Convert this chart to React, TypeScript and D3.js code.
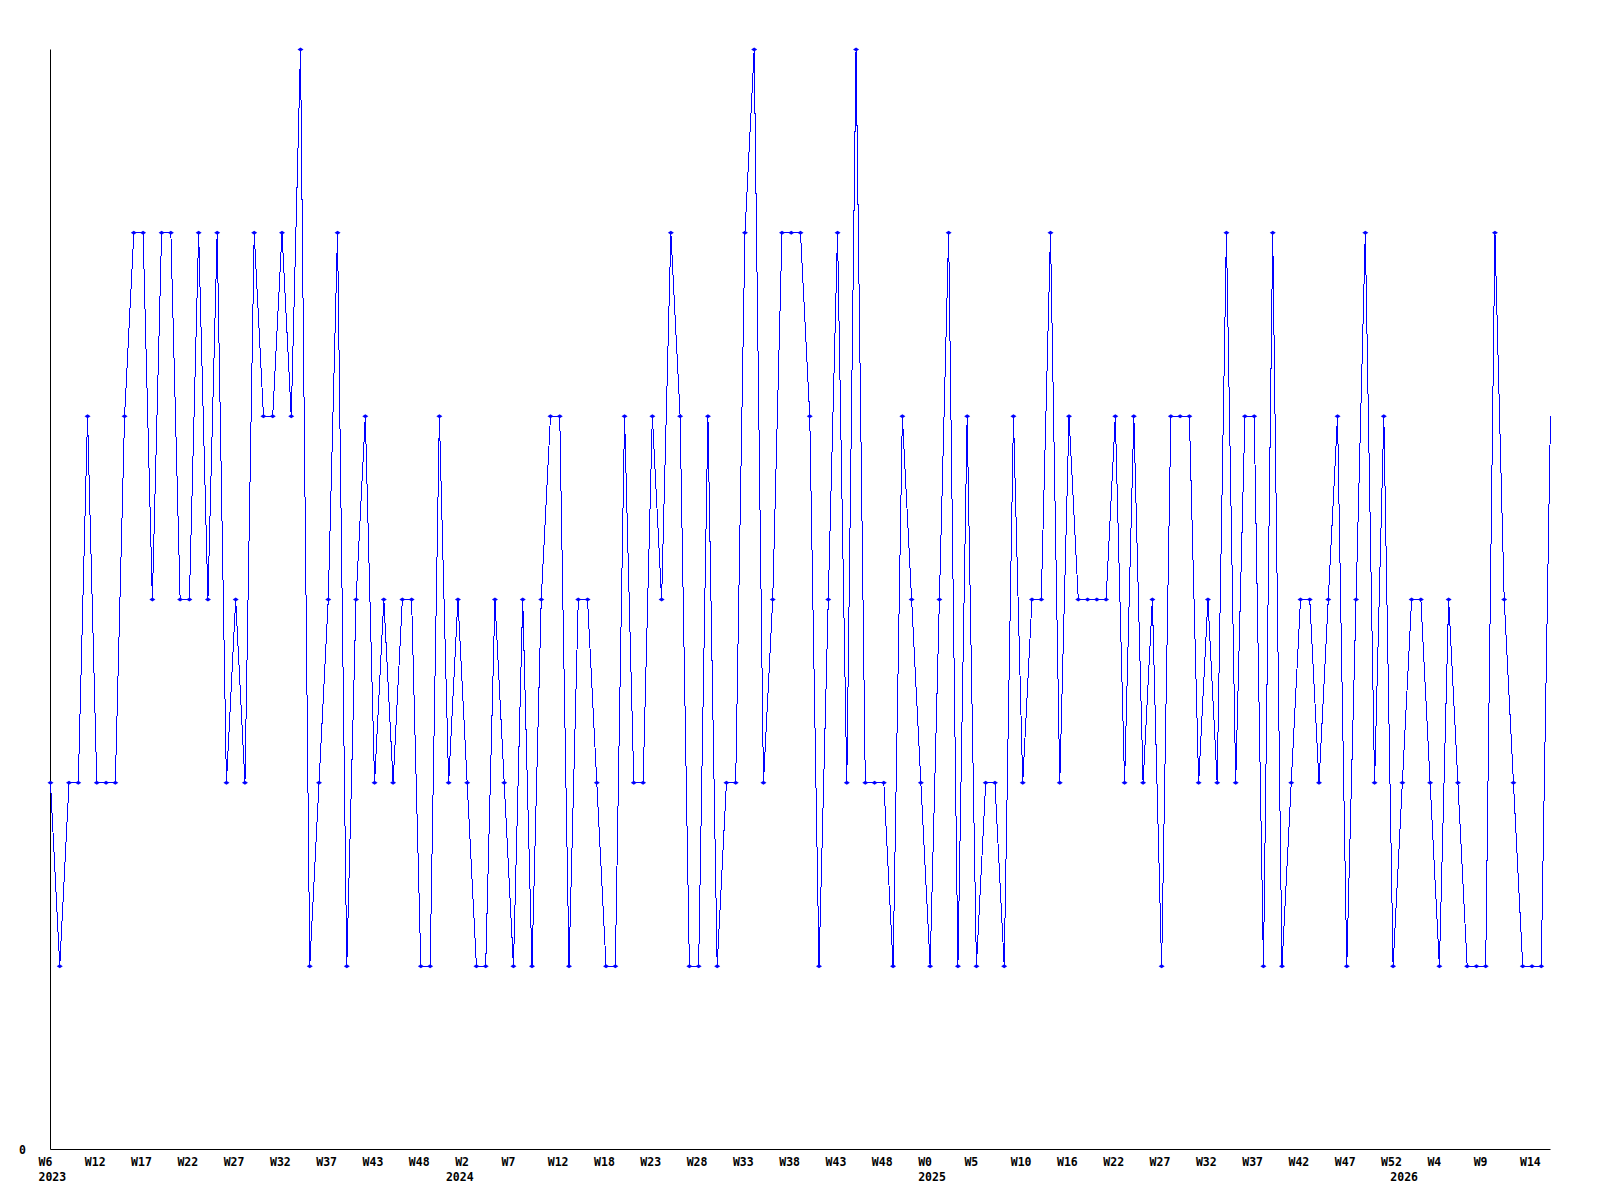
import * as d3 from "d3";
import { useEffect, useRef } from "react";

// one value per week
const values = [
  2, 1, 2, 2, 4, 2, 2, 2, 4, 5,
  5, 3, 5, 5, 3, 3, 5, 3, 5, 2,
  3, 2, 5, 4, 4, 5, 4, 6, 1, 2,
  3, 5, 1, 3, 4, 2, 3, 2, 3, 3,
  1, 1, 4, 2, 3, 2, 1, 1, 3, 2,
  1, 3, 1, 3, 4, 4, 1, 3, 3, 2,
  1, 1, 4, 2, 2, 4, 3, 5, 4, 1,
  1, 4, 1, 2, 2, 5, 6, 2, 3, 5,
  5, 5, 4, 1, 3, 5, 2, 6, 2, 2,
  2, 1, 4, 3, 2, 1, 3, 5, 1, 4,
  1, 2, 2, 1, 4, 2, 3, 3, 5, 2,
  4, 3, 3, 3, 3, 4, 2, 4, 2, 3,
  1, 4, 4, 4, 2, 3, 2, 5, 2, 4,
  4, 1, 5, 1, 2, 3, 3, 2, 3, 4,
  1, 3, 5, 2, 4, 1, 2, 3, 3, 2,
  1, 3, 2, 1, 1, 1, 5, 3, 2, 1,
  1, 1, 4,
];

// a week label on every 5th point
const weekLabels = [
  "W6", "W12", "W17", "W22", "W27", "W32", "W37", "W43", "W48", "W2",
  "W7", "W12", "W18", "W23", "W28", "W33", "W38", "W43", "W48", "W0",
  "W5", "W10", "W16", "W22", "W27", "W32", "W37", "W42", "W47", "W52",
  "W4", "W9", "W14",
];
const tickStep = 5;

const yearNames = ["2023", "2024", "2025", "2026"];
const yearIndex = [0, 44, 95, 146];

const yMax = 6;

function chart() {
  const width = 1600;
  const height = 1200;
  const left = 50.5;
  const right = 1550.5;
  const top = 49.5;
  const bottom = 1149.5;
  const font = "bold 11.5px 'DejaVu Sans Mono', 'Liberation Mono', monospace";

  const x = d3.scaleLinear().domain([0, values.length - 1]).range([left, right]);
  const y = d3.scaleLinear().domain([0, yMax]).range([bottom, top]);

  const svg = d3.create("svg")
      .attr("width", width)
      .attr("height", height)
      .attr("viewBox", [0, 0, width, height])
      .attr("style", "display:block; background:#fff;");

  // axes: plain lines, no ticks
  svg.append("line")
      .attr("x1", left).attr("x2", left)
      .attr("y1", y(yMax)).attr("y2", y(0))
      .attr("stroke", "#000");
  svg.append("line")
      .attr("x1", left).attr("x2", x(values.length - 1))
      .attr("y1", y(0)).attr("y2", y(0))
      .attr("stroke", "#000");

  svg.append("text")
      .attr("x", 26).attr("y", 1154)
      .attr("text-anchor", "end")
      .style("font", font)
      .text("0");

  svg.append("g")
      .style("font", font)
    .selectAll()
    .data(weekLabels)
    .join("text")
      .attr("x", (_, i) => x(i * tickStep) - 12)
      .attr("y", 1166)
      .text((d) => d);

  svg.append("g")
      .style("font", font)
    .selectAll()
    .data(yearNames)
    .join("text")
      .attr("x", (_, i) => x(yearIndex[i]) - 12)
      .attr("y", 1181)
      .text((d) => d);

  const line = d3.line<number>()
      .x((_, i) => x(i))
      .y((d) => y(d));

  svg.append("path")
      .datum(values)
      .attr("fill", "none")
      .attr("stroke", "#0000ff")
      .attr("stroke-width", 1)
      .attr("shape-rendering", "crispEdges")
      .attr("d", line);

  // small diamond markers
  svg.append("g")
      .attr("fill", "#0000ff")
    .selectAll()
    .data(values.slice(0, -1))
    .join("path")
      .attr("d", (d, i) => {
        const cx = x(i);
        const cy = y(d);
        return `M${cx - 3},${cy}L${cx},${cy - 2}L${cx + 3},${cy}L${cx},${cy + 2}Z`;
      });

  return svg.node();
}

function App() {
  const divRef = useRef<HTMLDivElement | null>(null);
  useEffect(() => {
    if (divRef.current) {
      divRef.current.innerHTML = "";
      const node = chart();
      if (node) divRef.current.appendChild(node);
    }
  }, []);
  return <div ref={divRef} style={{ position: "absolute", left: 0, top: 0 }} />;
}

export default App;
